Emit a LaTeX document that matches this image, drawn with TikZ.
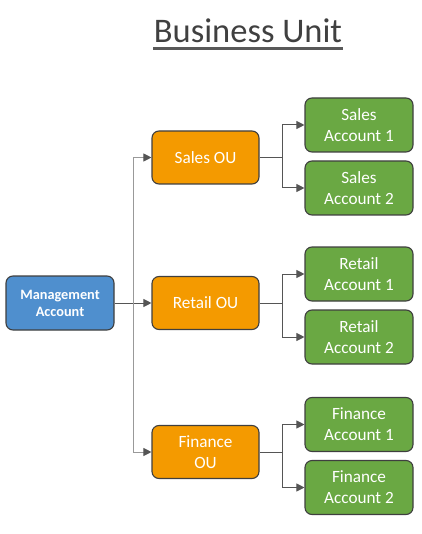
\documentclass[tikz,border=0pt]{standalone}
\usepackage{fontspec}
\setmainfont{Carlito}
\usetikzlibrary{arrows.meta}
\definecolor{mgblue}{HTML}{4F8FCE}
\definecolor{ouorange}{HTML}{F49A00}
\definecolor{acgreen}{HTML}{6AA843}
\definecolor{edgegray}{HTML}{3F3F3F}
\definecolor{linegray}{HTML}{555555}
\begin{document}
\begin{tikzpicture}[x=1pt,y=-1pt,
  box/.style={draw=edgegray,line width=1.1pt,rounded corners=7pt,text=white,align=center,inner sep=0pt,minimum width=107pt,minimum height=53pt},
  mgbox/.style={box,fill=mgblue,font=\fontsize{14.3}{17}\selectfont\bfseries,minimum width=108pt,minimum height=54pt},
  oubox/.style={box,fill=ouorange,font=\fontsize{17.2}{20.5}\selectfont},
  acbox/.style={box,fill=acgreen,font=\fontsize{17.2}{21}\selectfont,minimum width=108pt,minimum height=54pt},
  conn/.style={draw=linegray,line width=1pt,-{Triangle[length=8pt,width=8pt,color=linegray]}},
  plain/.style={draw=linegray,line width=1pt}]
\useasboundingbox (0,0) rectangle (421,534);
\node[font=\fontsize{34.5}{40}\selectfont,text=black!75] (title) at (248,31) {Business Unit};
\draw[line width=2.2pt,draw=black!65] ([xshift=3pt,yshift=-2pt]title.south west) -- ([xshift=-3pt,yshift=-2pt]title.south east);
\node[mgbox] (mg) at (60,303) {Management\\Account};
\node[oubox] (sou) at (205.5,157.5) {Sales OU};
\node[oubox] (rou) at (205.5,303) {Retail OU};
\node[oubox] (fou) at (205.5,452) {Finance\\OU};
\node[acbox] (sa1) at (359,125) {Sales\\Account 1};
\node[acbox] (sa2) at (359,188) {Sales\\Account 2};
\node[acbox] (ra1) at (359,274) {Retail\\Account 1};
\node[acbox] (ra2) at (359,337) {Retail\\Account 2};
\node[acbox] (fa1) at (359,424.5) {Finance\\Account 1};
\node[acbox] (fa2) at (359,487.5) {Finance\\Account 2};
\coordinate (trunk) at (133,303);
\draw[conn] (mg.east) -- (rou.west);
\draw[conn,draw=black!40] (trunk) |- (sou.west);
\draw[conn,draw=black!40] (trunk) |- (fou.west);
\foreach \ou/\a/\b in {sou/sa1/sa2,rou/ra1/ra2,fou/fa1/fa2}{
  \coordinate (br) at ([xshift=23pt]\ou.east);
  \draw[plain] (\ou.east) -- (br);
  \draw[conn] (br) |- (\a.west);
  \draw[conn] (br) |- (\b.west);
}
\end{tikzpicture}
\end{document}
